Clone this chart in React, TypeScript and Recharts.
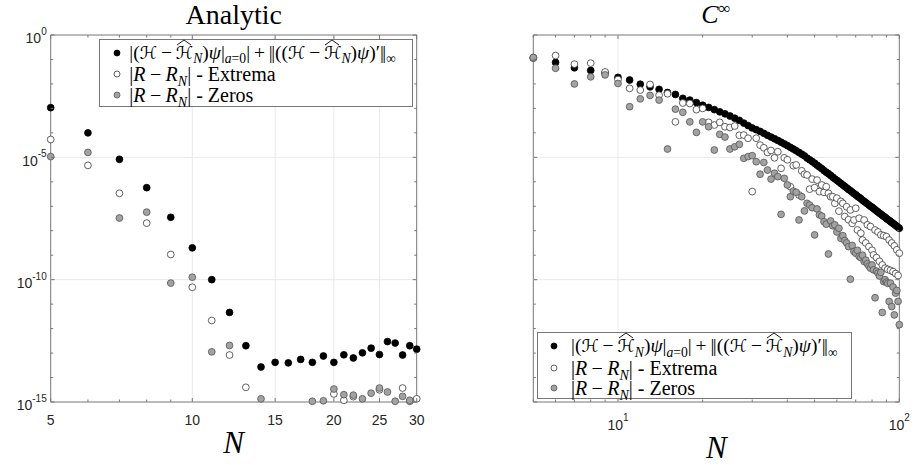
import type { ReactNode } from 'react'
import { ReferenceArea, ReferenceLine, Scatter, ScatterChart, XAxis, YAxis } from 'recharts'

// N values and log10 of each plotted error
const analyticN = [5, 6, 7, 8, 9, 10, 11, 12, 13, 14, 15, 16, 17, 18, 19, 20, 21, 22, 23, 24, 25, 26, 27, 28, 29, 30]

const analyticBoundExp = [
    -2.97, -4.0, -5.08, -6.24, -7.45, -8.7, -10.0, -11.34, -12.7, -13.57, -13.38, -13.4, -13.26, -13.38, -13.12,
    -13.38, -13.07, -13.2, -12.99, -12.8, -13.06, -12.53, -12.59, -13.08, -12.7, -12.84
]
const analyticExtremaExp = [
    -4.27, -5.33, -6.47, -7.69, -8.97, -10.31, -11.67, -13.08, -14.4, null, null, null, null, null, null, -14.67,
    -14.93, -14.78, null, null, -14.5, null, null, -14.43, -14.97, -14.87
]
const analyticZerosExp = [
    -4.97, -4.8, -7.48, -7.24, -10.14, -9.9, -12.95, -12.69, null, -14.87, null, null, null, -14.97, -14.95, -14.47,
    -14.7, -14.72, -14.87, -14.64, -14.43, -14.59, -14.97, -14.77, -14.93, null
]

const smoothN = [
    5, 6, 7, 8, 9, 10, 11, 12, 13, 14, 15, 16, 17, 18, 19, 20, 21, 22, 23, 24, 25, 26, 27, 28, 29, 30, 31, 32, 33, 34,
    35, 36, 37, 38, 39, 40, 41, 42, 43, 44, 45, 46, 47, 48, 49, 50, 51, 52, 53, 54, 55, 56, 57, 58, 59, 60, 61, 62, 63,
    64, 65, 66, 67, 68, 69, 70, 71, 72, 73, 74, 75, 76, 77, 78, 79, 80, 81, 82, 83, 84, 85, 86, 87, 88, 89, 90, 91, 92,
    93, 94, 95, 96, 97, 98, 99, 100
]

const smoothBoundExp = [
    -0.93, -1.12, -1.34, -1.45, -1.55, -1.73, -1.84, -2.01, -2.12, -2.22,
    -2.35, -2.43, -2.59, -2.66, -2.76, -2.87, -2.96, -3.05, -3.14, -3.22,
    -3.31, -3.4, -3.49, -3.6, -3.7, -3.8, -3.87, -3.94, -4.02, -4.1,
    -4.17, -4.24, -4.31, -4.38, -4.45, -4.52, -4.59, -4.66, -4.73, -4.8,
    -4.87, -4.94, -5.03, -5.1, -5.17, -5.24, -5.32, -5.39, -5.46, -5.54,
    -5.61, -5.67, -5.74, -5.81, -5.88, -5.94, -6.0, -6.07, -6.13, -6.19,
    -6.25, -6.31, -6.36, -6.42, -6.48, -6.53, -6.59, -6.64, -6.69, -6.75,
    -6.8, -6.85, -6.9, -6.95, -7.0, -7.04, -7.09, -7.14, -7.19, -7.23,
    -7.28, -7.32, -7.37, -7.41, -7.45, -7.5, -7.54, -7.58, -7.62, -7.66,
    -7.7, -7.74, -7.78, -7.82, -7.86, -7.9
]
const smoothExtremaExp = [
    -0.95, -0.84, -1.19, -1.15, -1.51, -1.82, -2.18, -2.25, -2.02, -2.46,
    -2.4, -3.55, -2.78, -2.8, -3.05, -3.0, -3.57, -3.68, -3.57, -3.75,
    -3.78, -3.72, -4.1, -4.09, -4.22, -6.4, -4.22, -4.5, -4.61, -4.8,
    -4.72, -5.02, -4.77, -5.45, -5.02, -5.1, -6.2, -5.34, -5.31, -6.54,
    -5.55, -5.69, -5.72, -6.3, -5.89, -6.24, -5.93, -6.4, -6.13, -6.43,
    -6.2, -6.47, -6.61, -6.61, -6.88, -6.67, -7.2, -6.8, -6.88, -7.42,
    -7.02, -7.55, -7.15, -7.7, -7.56, -7.08, -7.97, -7.49, -8.1, -8.38,
    -7.56, -8.5, -7.76, -8.65, -7.83, -8.8, -8.99, -7.97, -9.1, -8.05,
    -9.25, -8.17, -9.4, -8.2, -9.53, -8.24, -9.58, -8.38, -9.62, -8.5,
    -9.67, -8.62, -9.75, -8.78, -9.83, -8.92
]
const smoothZerosExp = [
    -0.92, -1.36, -2.0, -1.71, -1.63, -1.98, -2.93, -2.61, -2.47, -2.66,
    -4.66, -3.03, -3.16, -3.55, -3.98, -3.55, -3.75, -4.7, -4.06, -4.17,
    -4.66, -4.57, -4.47, -5.04, -4.97, -4.93, -5.18, -5.69, -5.21, -5.52,
    -5.89, -5.65, -5.79, -7.33, -5.86, -6.13, -6.61, -6.38, -6.43, -7.56,
    -6.61, -7.19, -6.88, -6.95, -7.06, -8.17, -7.11, -7.35, -7.4, -7.63,
    -7.73, -8.95, -7.6, -7.8, -7.76, -8.05, -7.9, -8.31, -8.2, -8.4,
    -8.5, -8.65, -9.98, -8.6, -8.85, -8.92, -8.8, -9.05, -9.1, -9.0,
    -9.26, -9.2, -9.35, -9.45, -9.53, -9.4, -9.6, -10.74, -9.65, -9.73,
    -9.85, -9.7, -11.34, -10.08, -10.0, -10.1, -10.15, -10.89, -10.14, -11.1,
    -10.3, -11.44, -10.55, -10.44, -10.89, -11.84
]

// axis ticks
const decadeExps = [-15, -14, -13, -12, -11, -10, -9, -8, -7, -6, -5, -4, -3, -2, -1, 0]
const analyticXTicks = [5, 6, 7, 8, 9, 10, 15, 20, 25, 30]
const analyticXMajor = [5, 10, 15, 20, 25, 30]
const smoothXTicks = [5, 6, 7, 8, 9, 10, 20, 30, 40, 50, 60, 70, 80, 90, 100]
const smoothXMajor = [10, 100]

const AXIS_COLOR = '#777'
const GRID_COLOR = '#e9e9e9'
const LABEL_COLOR = '#262626'
const PAGE_H = 465
const PLOT_TOP = 35
const PLOT_BOTTOM = 402
const X_AXIS_HEIGHT = 30
const MARKER_R = 3.4
const SANS = '"Liberation Sans", Arial, sans-serif'
const SERIF = '"Liberation Serif", "Times New Roman", serif'

type Pt = { n: number; v: number }
type Kind = 'bound' | 'extrema' | 'zeros'

const markerStyles: Record<Kind, { fill: string; stroke: string }> = {
    bound: { fill: '#000', stroke: '#000' },
    extrema: { fill: '#fff', stroke: '#3a3a3a' },
    zeros: { fill: '#a2a2a2', stroke: '#555' }
}

function toPoints(ns: number[], exps: (number | null)[]): Pt[] {
    const out: Pt[] = []
    ns.forEach((n, i) => {
        const e = exps[i]
        if (e !== null && e !== undefined) out.push({ n, v: 10 ** e })
    })
    return out
}

const yTicks = decadeExps.map((e) => 10 ** e)

interface PanelProps {
    chartLeft: number
    chartWidth: number
    plotLeft: number
    plotRight: number
    xDomain: [number, number]
    xTicks: number[]
    xMajor: number[]
    xLabel: (v: number) => ReactNode
    xLabelY: number
    showYLabels: boolean
    series: Record<Kind, Pt[]>
}

function Panel(p: PanelProps) {
    const left = p.plotLeft - p.chartLeft
    const right = p.plotRight - p.chartLeft

    const xTick = (props: any) => {
        const { x, payload } = props
        const major = p.xMajor.includes(payload.value)
        const len = major ? 4 : 2.5
        return (
            <g>
                <line x1={x} x2={x} y1={PLOT_BOTTOM} y2={PLOT_BOTTOM - len} stroke={AXIS_COLOR} />
                <line x1={x} x2={x} y1={PLOT_TOP} y2={PLOT_TOP + len} stroke={AXIS_COLOR} />
                {major && (
                    <text x={x} y={p.xLabelY} textAnchor='middle' fontFamily={SANS} fontSize={14} fill={LABEL_COLOR}>
                        {p.xLabel(payload.value)}
                    </text>
                )}
            </g>
        )
    }

    const yTick = (props: any) => {
        const { y, payload } = props
        const e = Math.round(Math.log10(payload.value))
        const major = e % 5 === 0
        const len = major ? 4 : 2.5
        return (
            <g>
                <line x1={left} x2={left + len} y1={y} y2={y} stroke={AXIS_COLOR} />
                <line x1={right} x2={right - len} y1={y} y2={y} stroke={AXIS_COLOR} />
                {p.showYLabels && major && (
                    <text x={left - 4} y={y + 8.4} textAnchor='end' fontFamily={SANS} fontSize={14} fill={LABEL_COLOR}>
                        10
                        <tspan dy={-8.5} fontSize={10}>
                            {e}
                        </tspan>
                    </text>
                )}
            </g>
        )
    }

    const dot = (kind: Kind) => (props: any) => (
        <circle cx={props.cx} cy={props.cy} r={MARKER_R} strokeWidth={0.8} {...markerStyles[kind]} />
    )

    return (
        <div style={{ position: 'absolute', left: p.chartLeft, top: 0 }}>
            <ScatterChart
                width={p.chartWidth}
                height={PAGE_H}
                margin={{ top: PLOT_TOP, right: p.chartWidth - right, bottom: PAGE_H - PLOT_BOTTOM - X_AXIS_HEIGHT, left: 0 }}
            >
                <XAxis
                    dataKey='n'
                    type='number'
                    scale='log'
                    domain={p.xDomain}
                    ticks={p.xTicks}
                    interval={0}
                    height={X_AXIS_HEIGHT}
                    axisLine={false}
                    tickLine={false}
                    tick={xTick}
                />
                <YAxis
                    dataKey='v'
                    type='number'
                    scale='log'
                    domain={[1e-15, 1]}
                    ticks={yTicks}
                    interval={0}
                    width={left}
                    axisLine={false}
                    tickLine={false}
                    tick={yTick}
                />
                {p.xMajor
                    .filter((v) => v > p.xDomain[0] && v < p.xDomain[1])
                    .map((v) => (
                        <ReferenceLine key={`gx${v}`} x={v} stroke={GRID_COLOR} />
                    ))}
                {[1e-5, 1e-10].map((v) => (
                    <ReferenceLine key={`gy${v}`} y={v} stroke={GRID_COLOR} />
                ))}
                <Scatter data={p.series.bound} shape={dot('bound')} isAnimationActive={false} />
                <Scatter data={p.series.extrema} shape={dot('extrema')} isAnimationActive={false} />
                <Scatter data={p.series.zeros} shape={dot('zeros')} isAnimationActive={false} />
                <ReferenceArea
                    x1={p.xDomain[0]}
                    x2={p.xDomain[1]}
                    y1={1e-15}
                    y2={1}
                    fill='none'
                    fillOpacity={0}
                    stroke={AXIS_COLOR}
                    strokeOpacity={1}
                />
            </ScatterChart>
        </div>
    )
}

const Cal = () => <span style={{ fontFamily: '"DejaVu Serif", "DejaVu Sans", serif', fontSize: '0.9em' }}>ℋ</span>

function Hat({ children }: { children: ReactNode }) {
    return (
        <span style={{ position: 'relative', display: 'inline-block' }}>
            {children}
            <svg width={16} height={7} style={{ position: 'absolute', left: 0, top: -3 }}>
                <polyline points='1,6 8,1 15,6' fill='none' stroke='#000' strokeWidth={0.9} />
            </svg>
        </span>
    )
}

const Sub = ({ children }: { children: ReactNode }) => (
    <span style={{ fontSize: '0.7em', position: 'relative', top: '0.35em' }}>{children}</span>
)

const Op = ({ children, pad }: { children: ReactNode; pad: string }) => (
    <span style={{ padding: `0 ${pad}` }}>{children}</span>
)

// double bar for the norm
const Norm = () => <span style={{ letterSpacing: '-0.08em', paddingRight: '0.08em' }}>||</span>

const boundLabel = (
    <>
        |(<Cal />
        <Op pad='0.2em'>−</Op>
        <Hat>
            <Cal />
        </Hat>
        <Sub>
            <i>N</i>
        </Sub>
        )<i>ψ</i>|
        <Sub>
            <i>a</i>=0
        </Sub>
        |<Op pad='0.2em'>+</Op>
        <Norm />
        ((
        <Cal />
        <Op pad='0.2em'>−</Op>
        <Hat>
            <Cal />
        </Hat>
        <Sub>
            <i>N</i>
        </Sub>
        )<i>ψ</i>)′<Norm />
        <Sub>∞</Sub>
    </>
)
const residual = (
    <>
        |<i>R</i>
        <Op pad='0.22em'>−</Op>
        <i>R</i>
        <Sub>
            <i>N</i>
        </Sub>
        |
    </>
)
const legendEntries: { kind: Kind; label: ReactNode; size: number }[] = [
    { kind: 'bound', label: boundLabel, size: 19.5 },
    { kind: 'extrema', label: <>{residual} - Extrema</>, size: 20 },
    { kind: 'zeros', label: <>{residual} - Zeros</>, size: 20 }
]

function LegendBox(props: {
    left: number
    top: number
    width: number
    height: number
    rows: number[]
    markerX: number
    textX: number
}) {
    return (
        <div
            style={{
                position: 'absolute',
                left: props.left,
                top: props.top,
                width: props.width,
                height: props.height,
                border: `1px solid ${AXIS_COLOR}`,
                background: '#fff',
                boxSizing: 'border-box'
            }}
        >
            {legendEntries.map((entry, i) => (
                <div key={entry.kind}>
                    <svg
                        width={8}
                        height={8}
                        style={{ position: 'absolute', left: props.markerX - 4, top: props.rows[i] - 4 }}
                    >
                        <circle cx={4} cy={4} r={3} strokeWidth={0.8} {...markerStyles[entry.kind]} />
                    </svg>
                    <div
                        style={{
                            position: 'absolute',
                            left: props.textX,
                            top: props.rows[i] - 11,
                            lineHeight: '22px',
                            whiteSpace: 'nowrap',
                            fontFamily: SERIF,
                            fontSize: entry.size,
                            color: '#000'
                        }}
                    >
                        {entry.label}
                    </div>
                </div>
            ))}
        </div>
    )
}

export default function App() {
    return (
        <div style={{ position: 'absolute', left: 0, top: 0, width: 916, height: PAGE_H, background: '#fff' }}>
            <Panel
                chartLeft={0}
                chartWidth={460}
                plotLeft={50.7}
                plotRight={416.7}
                xDomain={[5, 30]}
                xTicks={analyticXTicks}
                xMajor={analyticXMajor}
                xLabel={(v) => String(v)}
                xLabelY={424.5}
                showYLabels
                series={{
                    bound: toPoints(analyticN, analyticBoundExp),
                    extrema: toPoints(analyticN, analyticExtremaExp),
                    zeros: toPoints(analyticN, analyticZerosExp)
                }}
            />
            <Panel
                chartLeft={460}
                chartWidth={456}
                plotLeft={533.3}
                plotRight={899.3}
                xDomain={[5, 100]}
                xTicks={smoothXTicks}
                xMajor={smoothXMajor}
                xLabel={(v) => (
                    <>
                        10
                        <tspan dy={-9} fontSize={10}>
                            {Math.round(Math.log10(v))}
                        </tspan>
                    </>
                )}
                xLabelY={430}
                showYLabels={false}
                series={{
                    bound: toPoints(smoothN, smoothBoundExp),
                    extrema: toPoints(smoothN, smoothExtremaExp),
                    zeros: toPoints(smoothN, smoothZerosExp)
                }}
            />
            <svg width={916} height={PAGE_H} style={{ position: 'absolute', left: 0, top: 0, pointerEvents: 'none' }}>
                <text x={233.7} y={23.5} textAnchor='middle' fontFamily={SERIF} fontSize={28}>
                    Analytic
                </text>
                <text x={716} y={22.5} textAnchor='middle' fontFamily={SERIF} fontSize={26}>
                    <tspan fontStyle='italic'>C</tspan>
                    <tspan dy={-8.5} fontSize={17}>
                        ∞
                    </tspan>
                </text>
                <text x={233.7} y={452.7} textAnchor='middle' fontFamily={SERIF} fontStyle='italic' fontSize={31}>
                    N
                </text>
                <text x={716.3} y={458} textAnchor='middle' fontFamily={SERIF} fontStyle='italic' fontSize={31}>
                    N
                </text>
            </svg>
            <LegendBox left={99.3} top={39} width={314} height={68} rows={[12.7, 33.7, 55]} markerX={16.7} textX={29} />
            <LegendBox
                left={536.7}
                top={332.3}
                width={315}
                height={67}
                rows={[12.7, 34.4, 55]}
                markerX={16.6}
                textX={33.3}
            />
        </div>
    )
}
